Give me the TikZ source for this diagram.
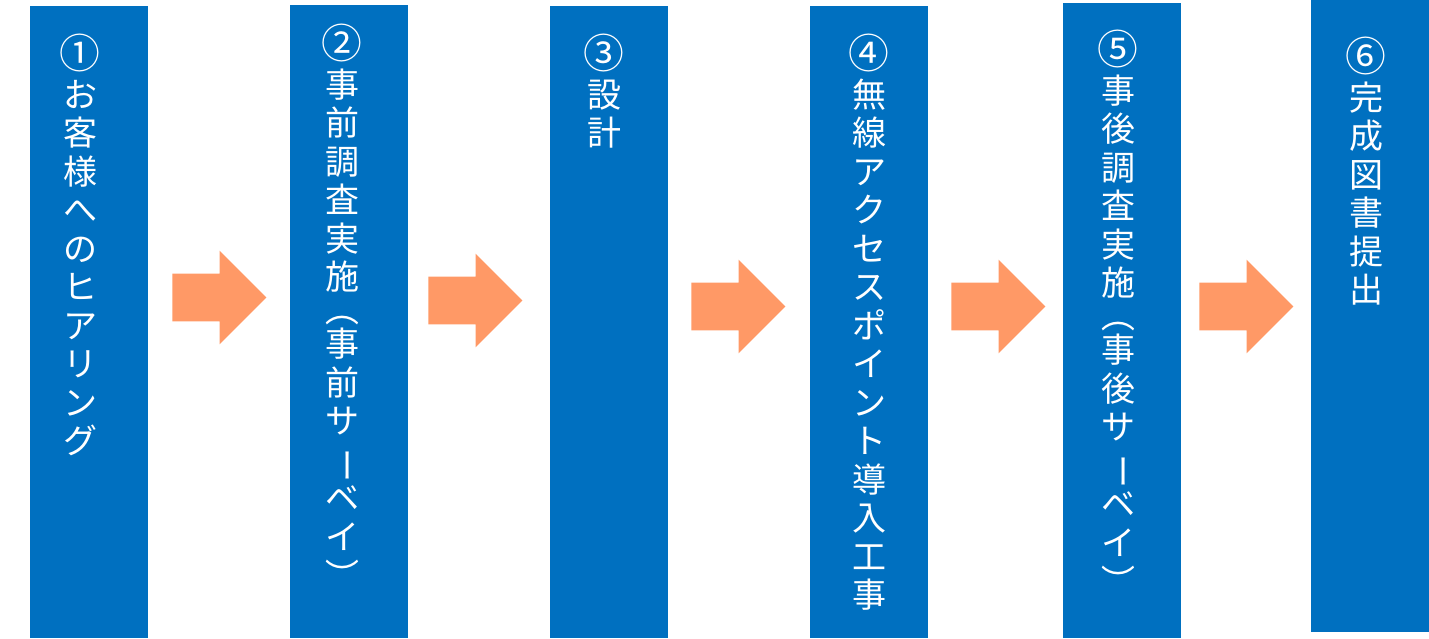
\documentclass[tikz,border=0pt]{standalone}
\usepackage{fontspec}
\newfontfamily\jpfont{Noto Sans CJK JP}
\usepackage{tikz}
\usetikzlibrary{shapes.arrows}
\definecolor{flowblue}{HTML}{0070C0}
\definecolor{floworange}{HTML}{FF9966}
% glyphs turned for vertical writing
\newcommand{\vlp}{\rotatebox[origin=c]{-90}{（}}
\newcommand{\vrp}{\rotatebox[origin=c]{-90}{）}}
\newcommand{\vbar}{\rotatebox[origin=c]{-90}{ー}}
\newcommand{\vnum}[1]{\scalebox{1.2}{#1}}
\tikzset{
  stepbar/.style={fill=flowblue,draw=none,inner sep=0pt,anchor=north west,minimum width=59pt},
  steptext/.style={text=white,align=center,inner sep=0pt,anchor=north,font=\jpfont\fontsize{17}{19.25}\selectfont},
  nextarrow/.style={single arrow,fill=floworange,draw=none,inner sep=0pt,text height=11.75pt,text depth=11.75pt,
    single arrow head extend=11.5pt,minimum height=47pt,anchor=tail}
}

\begin{document}
\begin{tikzpicture}[x=0.5pt,y=-0.5pt]
\useasboundingbox (0,0) rectangle (1429,638);
% the six steps: left edge / top / bottom / text x / text top / label
\foreach \n/\xl/\yt/\yb/\tx/\ty/\lab in {
  1/30/6/638/80/34/{\vnum{①}\\お\\客\\様\\へ\\の\\ヒ\\ア\\リ\\ン\\グ},
  2/290/5/638/342/24/{\vnum{②}\\事\\前\\調\\査\\実\\施\\[-3pt]\vlp\\[-2pt]事\\前\\サ\\\vbar\\ベ\\イ\\\vrp},
  3/550/6/638/604/34/{\vnum{③}\\設\\計},
  4/810/6/638/869/34/{\vnum{④}\\無\\線\\ア\\ク\\セ\\ス\\ポ\\イ\\ン\\ト\\導\\入\\工\\事},
  5/1063/3/638/1118/30/{\vnum{⑤}\\事\\後\\調\\査\\実\\施\\[-3pt]\vlp\\[-2pt]事\\後\\サ\\\vbar\\ベ\\イ\\\vrp},
  6/1311/0/632/1366/37/{\vnum{⑥}\\完\\成\\図\\書\\提\\出}}{
  \pgfmathsetmacro\h{(\yb-\yt)/2}
  \node[stepbar,minimum height=\h pt] (c\n) at (\xl,\yt) {};
  \node[steptext] (t\n) at (\tx,\ty) {\lab};
}
% block arrows between the steps
\foreach \n/\ax/\ay in {1/172/297.5, 2/428/300.5, 3/691/306.5, 4/951/306.5, 5/1199/306.5}
  \node[nextarrow] (a\n) at (\ax,\ay) {};
\end{tikzpicture}
\end{document}
